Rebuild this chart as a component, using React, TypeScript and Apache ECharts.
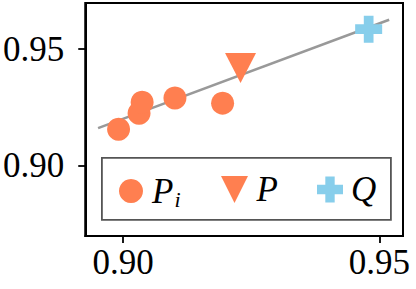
import React, { useEffect, useRef } from "react";
import * as echarts from "echarts";

const piX = [0.8991, 0.9031, 0.9037, 0.9101, 0.9194];
const piY = [0.9157, 0.9226, 0.9273, 0.9291, 0.9269];
const pX = [0.9229];
const pY = [0.942];
const qX = [0.9479];
const qY = [0.9586];
const fitX = [0.8951, 0.9519];
const fitY = [0.9162, 0.9626];
const tickValues = [0.9, 0.95];
const seriesNames = ["Pi", "P", "Q"];

const ORANGE = "#FF7F50";
const BLUE = "#87CEEB";
const PLUS = "path://M0.32,0H0.68V0.32H1V0.68H0.68V1H0.32V0.68H0V0.32H0.32Z";
const DOWN_TRI = "path://M0,0H1L0.5,1Z";
const SERIF = "'Liberation Serif', 'Times New Roman', serif";

const zip = (xs: number[], ys: number[]) => xs.map((x, i) => [x, ys[i]]);

export default function App() {
  const ref = useRef<HTMLDivElement>(null);
  useEffect(() => {
    if (!ref.current) return;
    const chart = echarts.init(ref.current, undefined, { renderer: "svg" });
    const legendText = (padLeft: number) => ({
      fontFamily: SERIF,
      fontStyle: "italic",
      fontSize: 34,
      color: "#000",
      rich: {
        a: { fontFamily: SERIF, fontStyle: "italic", fontSize: 35, lineHeight: 34, padding: [0, 0, 0, padLeft], color: "#000" },
        b: { fontFamily: SERIF, fontStyle: "italic", fontSize: 22, lineHeight: 34, padding: [16, 0, 0, 1], color: "#000" },
      },
    });
    const baseLegend = {
      orient: "horizontal",
      padding: 0,
      itemGap: 0,
      top: 172,
      selectedMode: false,
    };
    chart.setOption({
      animation: false,
      grid: {
        left: 84,
        right: 13,
        top: 3,
        bottom: 53,
        show: true,
        borderColor: "#000",
        borderWidth: 2,
        backgroundColor: "transparent",
      },
      xAxis: {
        type: "value",
        min: 0.8926,
        max: 0.9546,
        splitLine: { show: false },
        axisLine: { show: true, onZero: false, lineStyle: { color: "#000", width: 2 } },
        axisTick: { show: true, inside: false, length: 7, lineStyle: { color: "#000", width: 1.8 }, customValues: tickValues },
        axisLabel: {
          customValues: tickValues,
          formatter: (v: number) => v.toFixed(2),
          fontFamily: SERIF,
          fontSize: 35,
          color: "#000",
          margin: 9,
        },
      },
      yAxis: {
        type: "value",
        min: 0.87,
        max: 0.9698,
        splitLine: { show: false },
        axisLine: { show: true, onZero: false, lineStyle: { color: "#000", width: 2 } },
        axisTick: { show: true, inside: false, length: 7, lineStyle: { color: "#000", width: 1.8 }, customValues: tickValues },
        axisLabel: {
          customValues: tickValues,
          formatter: (v: number) => v.toFixed(2),
          fontFamily: SERIF,
          fontSize: 35,
          color: "#000",
          margin: 21,
        },
      },
      legend: [
        {
          ...baseLegend,
          left: 119,
          itemWidth: 24,
          itemHeight: 24,
          data: [{ name: seriesNames[0], icon: "circle" }],
          formatter: () => "{a|P}{b|i}",
          textStyle: legendText(4),
        },
        {
          ...baseLegend,
          left: 221,
          itemWidth: 30,
          itemHeight: 27,
          data: [{ name: seriesNames[1], icon: DOWN_TRI }],
          formatter: () => "{a|P}",
          textStyle: legendText(2),
        },
        {
          ...baseLegend,
          left: 317,
          itemWidth: 26,
          itemHeight: 26,
          data: [{ name: seriesNames[2], icon: PLUS }],
          formatter: () => "{a|Q}",
          textStyle: legendText(3),
        },
      ],
      graphic: [
        {
          type: "rect",
          left: 101,
          top: 157,
          shape: { width: 289, height: 62 },
          style: { fill: "#fff", stroke: "#555", lineWidth: 1.8 },
          z: 0,
          zlevel: 0,
        },
      ],
      series: [
        {
          type: "line",
          data: zip(fitX, fitY),
          showSymbol: false,
          symbol: "none",
          lineStyle: { color: "#999", width: 2.6 },
          z: 1,
          silent: true,
        },
        {
          name: seriesNames[0],
          type: "scatter",
          data: zip(piX, piY),
          symbol: "circle",
          symbolSize: 23,
          itemStyle: { color: ORANGE, opacity: 1 },
          z: 3,
        },
        {
          name: seriesNames[1],
          type: "scatter",
          data: zip(pX, pY),
          symbol: "triangle",
          symbolRotate: 180,
          symbolSize: [31, 30],
          itemStyle: { color: ORANGE, opacity: 1 },
          z: 3,
        },
        {
          name: seriesNames[2],
          type: "scatter",
          data: zip(qX, qY),
          symbol: PLUS,
          symbolSize: 27,
          itemStyle: { color: BLUE, opacity: 1 },
          z: 3,
        },
      ],
    });
    return () => chart.dispose();
  }, []);
  return <div ref={ref} style={{ width: 416, height: 289, position: "absolute", left: 0, top: 0 }} />;
}
